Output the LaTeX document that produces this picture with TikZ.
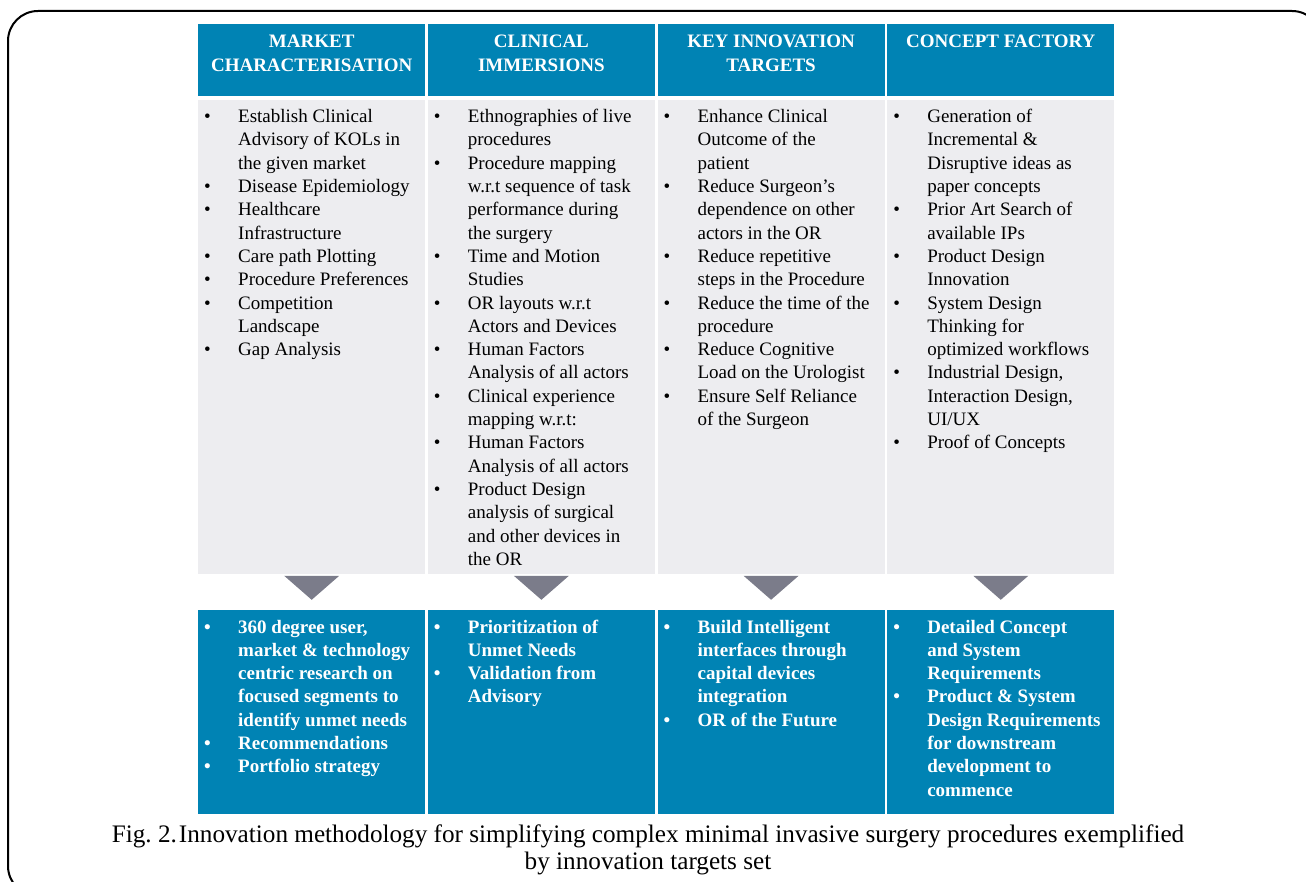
\documentclass[tikz,border=0pt]{standalone}
\usepackage{fontspec}
\setmainfont{Liberation Serif}
\usetikzlibrary{positioning, calc}

\definecolor{hdblue}{RGB}{0,131,180}
\definecolor{bodygray}{RGB}{237,237,240}
\definecolor{arrowgray}{RGB}{123,124,138}

\newcommand{\colfont}{\fontsize{19}{23.3}\selectfont}
\newenvironment{bullets}{\begin{tabular}{@{\hspace{6pt}}p{34pt}@{}l@{}}}{\end{tabular}}

\begin{document}
\begin{tikzpicture}[
  x=1pt, y=-1pt,
  inner sep=0pt,
  colbox/.style={minimum width=227pt},
  head/.style={colbox, fill=hdblue, minimum height=72pt},
  body/.style={colbox, fill=bodygray, minimum height=474pt},
  outbox/.style={colbox, fill=hdblue, minimum height=204pt},
  headtext/.style={anchor=north, align=center, text=white, font=\colfont\bfseries},
  bodytext/.style={anchor=north west, align=left, font=\colfont},
  outtext/.style={anchor=north west, align=left, text=white, font=\colfont\bfseries}]

  \clip (0,0) rectangle (1306,882);
  \useasboundingbox (0,0) rectangle (1306,882);
  \draw[line width=2pt, rounded corners=30pt] (8,11) rectangle (1322,896);

  % header row
  \node[head, anchor=north west](hd1) at (198,24){};
  \node[head, right=2.3pt of hd1](hd2){};
  \node[head, right=2.3pt of hd2](hd3){};
  \node[head, right=2.3pt of hd3](hd4){};

  % grey activity boxes
  \node[body, below=3pt of hd1](bd1){};
  \node[body, below=3pt of hd2](bd2){};
  \node[body, below=3pt of hd3](bd3){};
  \node[body, below=3pt of hd4](bd4){};

  % blue output boxes
  \node[outbox, below=36pt of bd1](out1){};
  \node[outbox, below=36pt of bd2](out2){};
  \node[outbox, below=36pt of bd3](out3){};
  \node[outbox, below=36pt of bd4](out4){};

  \foreach \i in {1,...,4}
    \fill[arrowgray] ($(bd\i.south)+(-27.5,2)$) -- ($(bd\i.south)+(27.5,2)$)
      -- ($(bd\i.south)+(0,26)$) -- cycle;

  \node[headtext](ht1) at ($(hd1.north)+(0,11)$){MARKET\\CHARACTERISATION};
  \node[headtext](ht2) at ($(hd2.north)+(0,11)$){CLINICAL\\IMMERSIONS};
  \node[headtext](ht3) at ($(hd3.north)+(0,11)$){KEY INNOVATION\\TARGETS};
  \node[headtext](ht4) at ($(hd4.north)+(0,11)$){CONCEPT FACTORY};

  \node[bodytext](bt1) at ($(bd1.north west)+(0,6.7)$){\begin{bullets}
    \textbullet & Establish Clinical\\ & Advisory of KOLs in\\ & the given market\\
    \textbullet & Disease Epidemiology\\
    \textbullet & Healthcare\\ & Infrastructure\\
    \textbullet & Care path Plotting\\
    \textbullet & Procedure Preferences\\
    \textbullet & Competition\\ & Landscape\\
    \textbullet & Gap Analysis
  \end{bullets}};
  \node[bodytext](bt2) at ($(bd2.north west)+(0,6.7)$){\begin{bullets}
    \textbullet & Ethnographies of live\\ & procedures\\
    \textbullet & Procedure mapping\\ & w.r.t sequence of task\\ & performance during\\ & the surgery\\
    \textbullet & Time and Motion\\ & Studies\\
    \textbullet & OR layouts w.r.t\\ & Actors and Devices\\
    \textbullet & Human Factors\\ & Analysis of all actors\\
    \textbullet & Clinical experience\\ & mapping w.r.t:\\
    \textbullet & Human Factors\\ & Analysis of all actors\\
    \textbullet & Product Design\\ & analysis of surgical\\ & and other devices in\\ & the OR
  \end{bullets}};
  \node[bodytext](bt3) at ($(bd3.north west)+(0,6.7)$){\begin{bullets}
    \textbullet & Enhance Clinical\\ & Outcome of the\\ & patient\\
    \textbullet & Reduce Surgeon’s\\ & dependence on other\\ & actors in the OR\\
    \textbullet & Reduce repetitive\\ & steps in the Procedure\\
    \textbullet & Reduce the time of the\\ & procedure\\
    \textbullet & Reduce Cognitive\\ & Load on the Urologist\\
    \textbullet & Ensure Self Reliance\\ & of the Surgeon
  \end{bullets}};
  \node[bodytext](bt4) at ($(bd4.north west)+(0,6.7)$){\begin{bullets}
    \textbullet & Generation of\\ & Incremental \&\\ & Disruptive ideas as\\ & paper concepts\\
    \textbullet & Prior Art Search of\\ & available IPs\\
    \textbullet & Product Design\\ & Innovation\\
    \textbullet & System Design\\ & Thinking for\\ & optimized workflows\\
    \textbullet & Industrial Design,\\ & Interaction Design,\\ & UI/UX\\
    \textbullet & Proof of Concepts
  \end{bullets}};

  \node[outtext](ot1) at ($(out1.north west)+(0,6.7)$){\begin{bullets}
    \textbullet & 360 degree user,\\ & market \& technology\\ & centric research on\\
      & focused segments to\\ & identify unmet needs\\
    \textbullet & Recommendations\\
    \textbullet & Portfolio strategy
  \end{bullets}};
  \node[outtext](ot2) at ($(out2.north west)+(0,6.7)$){\begin{bullets}
    \textbullet & Prioritization of\\ & Unmet Needs\\
    \textbullet & Validation from\\ & Advisory
  \end{bullets}};
  \node[outtext](ot3) at ($(out3.north west)+(0,6.7)$){\begin{bullets}
    \textbullet & Build Intelligent\\ & interfaces through\\ & capital devices\\ & integration\\
    \textbullet & OR of the Future
  \end{bullets}};
  \node[outtext](ot4) at ($(out4.north west)+(0,6.7)$){\begin{bullets}
    \textbullet & Detailed Concept\\ & and System\\ & Requirements\\
    \textbullet & Product \& System\\ & Design Requirements\\ & for downstream\\
      & development to\\ & commence
  \end{bullets}};

  % caption
  \node[anchor=north, align=center, font=\fontsize{25.2}{27}\selectfont](cap) at (648,825)
    {Fig.\ 2.\hspace{2pt}Innovation methodology for simplifying complex minimal invasive surgery procedures exemplified\\
     by innovation targets set};
\end{tikzpicture}
\end{document}
